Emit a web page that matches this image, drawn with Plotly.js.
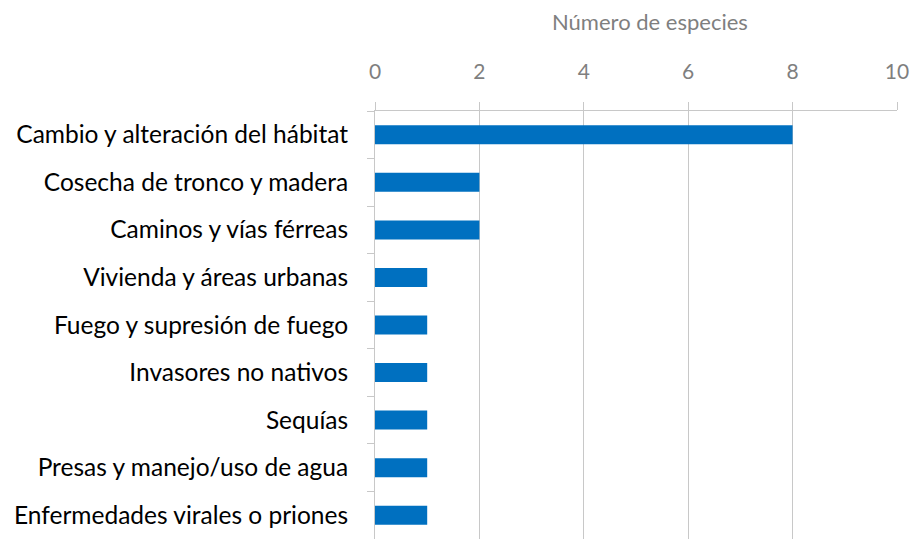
<!DOCTYPE html>
<html>
<head>
<meta charset="utf-8">
<script src="https://cdn.plot.ly/plotly-3.0.1.min.js"></script>
<style>html,body{margin:0;padding:0;background:#fff;}#chart{width:913px;height:539px;}</style>
</head>
<body>
<div id="chart"></div>
<script>
var categories = [
  "Cambio y alteración del hábitat",
  "Cosecha de tronco y madera",
  "Caminos y vías férreas",
  "Vivienda y áreas urbanas",
  "Fuego y supresión de fuego",
  "Invasores no nativos",
  "Sequías",
  "Presas y manejo/uso de agua",
  "Enfermedades virales o priones"
];
var values = [8, 2, 2, 1, 1, 1, 1, 1, 1];
var xTicks = [0, 2, 4, 6, 8, 10];
var xTitle = "Número de especies";

var fontFam = "Lato, 'Open Sans', sans-serif";
var data = [{
  type: "bar",
  orientation: "h",
  x: values,
  y: categories,
  marker: {color: "#0070C0"},
  hoverinfo: "x+y"
}];
var layout = {
  width: 913, height: 539,
  margin: {l: 375, r: 16, t: 111, b: 0, pad: 0},
  paper_bgcolor: "#fff", plot_bgcolor: "#fff",
  bargap: 0.6,
  showlegend: false,
  font: {family: fontFam},
  xaxis: {
    side: "top",
    range: [0, 10],
    tickvals: xTicks,
    ticktext: xTicks.map(String),
    showgrid: true, gridcolor: "#c8c8c8", gridwidth: 1,
    showline: true, linecolor: "#c8c8c8", linewidth: 1,
    zeroline: false,
    ticks: "outside", ticklen: 8, tickcolor: "#c8c8c8",
    tickfont: {size: 21, color: "#7f7f7f", family: fontFam},
    ticklabelstandoff: 15,
    automargin: false,
    fixedrange: true
  },
  yaxis: {
    type: "category",
    autorange: "reversed",
    showline: true, linecolor: "#c8c8c8", linewidth: 1,
    showgrid: false, zeroline: false,
    ticks: "outside", ticklen: 7, tickcolor: "#c8c8c8",
    tickson: "boundaries",
    tickfont: {size: 24.5, color: "#000", family: fontFam},
    ticklabelstandoff: 21,
    automargin: false,
    fixedrange: true
  },
  annotations: [{
    text: xTitle,
    xref: "paper", yref: "paper",
    x: 0.527, y: 1.208,
    xanchor: "center", yanchor: "middle",
    showarrow: false,
    font: {size: 22, color: "#7f7f7f", family: fontFam}
  }]
};
Plotly.newPlot("chart", data, layout, {displayModeBar: false, staticPlot: true});
</script>
</body>
</html>
